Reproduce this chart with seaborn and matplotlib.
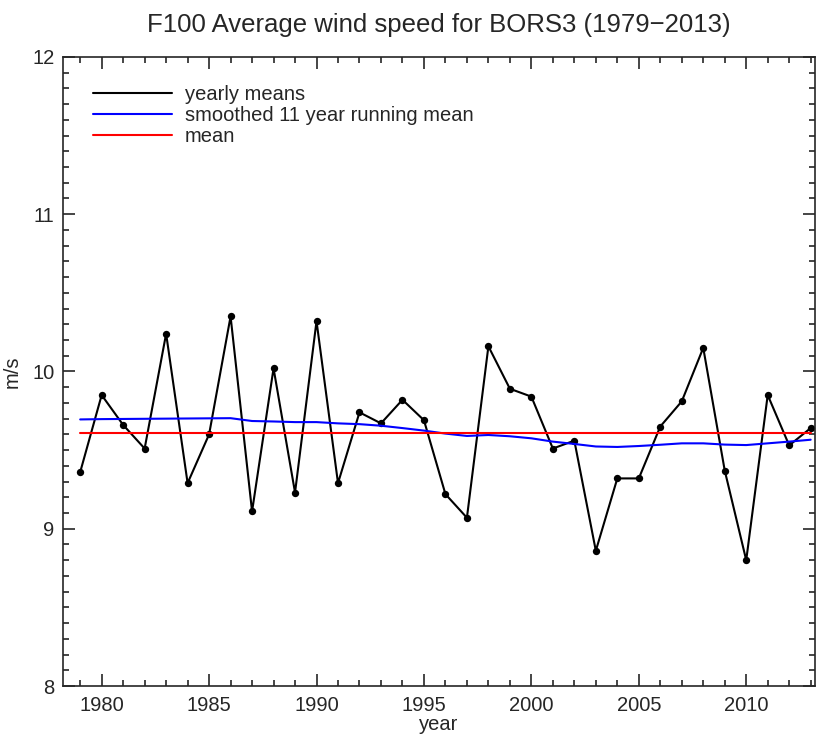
import numpy as np
import pandas as pd
import matplotlib
matplotlib.use('Agg')
import matplotlib.pyplot as plt
from matplotlib.ticker import MultipleLocator
import seaborn as sns

# yearly mean wind speed at 100 m
years = list(range(1979, 2014))
yearly = [9.36, 9.85, 9.66, 9.51, 10.24, 9.29, 9.60, 10.35, 9.11, 10.02,
          9.23, 10.32, 9.29, 9.74, 9.67, 9.82, 9.69, 9.22, 9.07, 10.16,
          9.89, 9.84, 9.51, 9.56, 8.86, 9.32, 9.32, 9.65, 9.81, 10.15,
          9.37, 8.80, 9.85, 9.53, 9.64]
# smoothed 11 year running mean
smoothed = [9.695, 9.697, 9.698, 9.699, 9.700, 9.701, 9.702, 9.703, 9.685, 9.682,
            9.678, 9.678, 9.670, 9.665, 9.655, 9.640, 9.624, 9.605, 9.590, 9.596,
            9.588, 9.575, 9.554, 9.539, 9.523, 9.520, 9.526, 9.534, 9.543, 9.543,
            9.535, 9.532, 9.543, 9.554, 9.566]
mean_val = 9.607

df = pd.DataFrame({'year': years, 'yearly': yearly, 'smoothed': smoothed})
df['mean'] = mean_val

sns.set_style('ticks')
plt.rcParams['font.family'] = ['Liberation Sans', 'DejaVu Sans']

fig = plt.figure(figsize=(8.3, 7.41), dpi=100)
ax = fig.add_axes([0.0759, 0.0742, 0.906, 0.849])

sns.lineplot(data=df, x='year', y='yearly', color='black', lw=1.5, ax=ax, label='yearly means')
sns.scatterplot(data=df, x='year', y='yearly', color='black', s=28, linewidth=0, ax=ax)
sns.lineplot(data=df, x='year', y='smoothed', color='blue', lw=1.5, ax=ax,
             label='smoothed 11 year running mean')
sns.lineplot(data=df, x='year', y='mean', color='red', lw=1.5, ax=ax, label='mean')

ax.set_xlim(1978.2, 2013.2)
ax.set_ylim(8, 12)
ax.xaxis.set_major_locator(MultipleLocator(5))
ax.xaxis.set_minor_locator(MultipleLocator(1))
ax.yaxis.set_major_locator(MultipleLocator(1))
ax.yaxis.set_minor_locator(MultipleLocator(0.1))
ax.tick_params(which='both', direction='in', top=True, right=True, labelsize=14.5,
               width=1.2)
ax.tick_params(axis='x', pad=7.5)
ax.tick_params(axis='y', pad=6)
ax.tick_params(which='major', length=8.6)
ax.tick_params(which='minor', length=4.3)
for s in ax.spines.values():
    s.set_linewidth(1.2)
    s.set_visible(True)

ax.set_xlabel('year', fontsize=14.5, labelpad=0)
ax.set_ylabel('m/s', fontsize=14.5, labelpad=8)
ax.set_title('F100 Average wind speed for BORS3 (1979\u22122013)', fontsize=18.5, pad=18)

leg = ax.legend(loc='upper left', frameon=False, fontsize=14.5, handlelength=3.9,
                handletextpad=0.65, labelspacing=0.1, borderpad=0, borderaxespad=0,
                bbox_to_anchor=(0.040, 0.9556))

fig.savefig('out.png', dpi=100)
